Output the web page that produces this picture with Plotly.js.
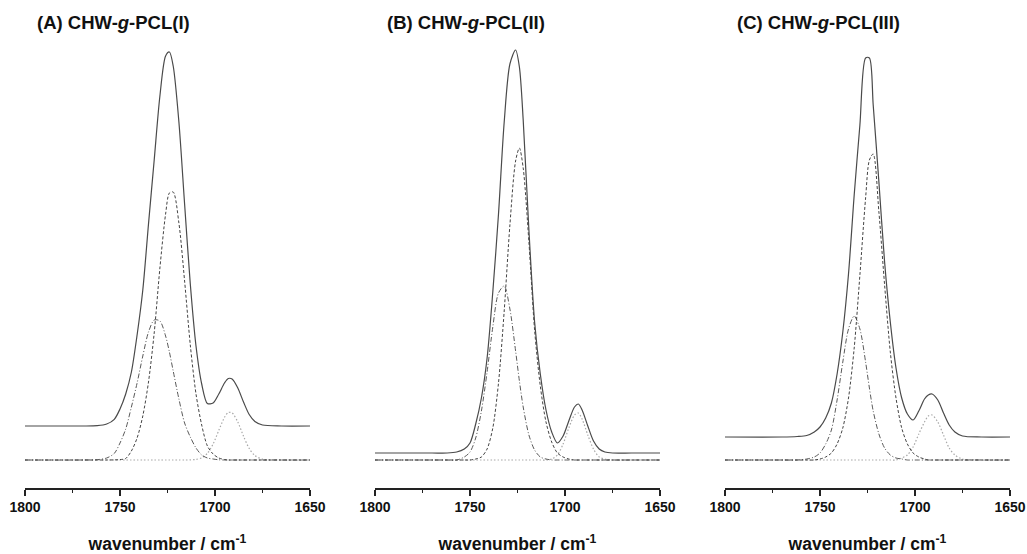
<!DOCTYPE html>
<html>
<head>
<meta charset="utf-8">
<script src="https://cdn.plot.ly/plotly-3.0.1.min.js"></script>
<style>html,body{margin:0;padding:0;background:#fff;}#chart{width:1027px;height:554px;}</style>
</head>
<body>
<div id="chart"></div>
<script>
// wavenumber grid (cm-1)
const wavenumber = [1800, 1770, 1762, 1757, 1753, 1750, 1747, 1744, 1741, 1738, 1735, 1732, 1729, 1726, 1724, 1722, 1719, 1716, 1713, 1710, 1707, 1704, 1701, 1698, 1695, 1693, 1691, 1688, 1685, 1682, 1679, 1675, 1665, 1650];

const panelTitles = ["(A) CHW-<i>g</i>-PCL(I)", "(B) CHW-<i>g</i>-PCL(II)", "(C) CHW-<i>g</i>-PCL(III)"];
const tickValues = [1800, 1750, 1700, 1650];
const minorTickValues = [1775, 1725, 1675];
const xTitle = "wavenumber / cm<sup>-1</sup>";

// Panel A (intensity, arbitrary units)
const A_sum = [34,34,34.3,36,40.7,51,66,88,125,170,236,300,364,404,408,394,338,256,176,114,76,56.5,57,66,77,81.5,81,72,58,45.5,38.5,35,34,34];
const A_band1 = [0,0,0,0,0.1,0.4,1.5,9,22,44,78,127,192,246,267,268,237,179,115,66,35,14,6,2,0.5,0,0,0,0,0,0,0,0,0];
const A_band2 = [0,0,0.3,2,6.6,17,31,53,77,104,128,140,139,124,108,89,61,37,23,12,5,2,1,0.2,0,0,0,0,0,0,0,0,0,0];
const A_band3 = [0,0,0,0,0,0,0,0,0,0,0,0,0,0,0,0,0,0,0.1,0.6,2.2,6.7,16,29.6,42.7,47.5,47.2,38,23.8,11.6,4.4,0.8,0,0];

// Panel B
const B_sum = [7,7,7,8,11,17,36,62,102,168,246,338,396,410,393,340,230,138,86,50,28,17,24,39,53,56,50,34,19,11,8,7,7,7];
const B_band1 = [0,0,0,0,0,0,1,3,11,32,77,149,235,299,312,292,218,130,74,38,18,7,3,1,0,0,0,0,0,0,0,0,0,0];
const B_band2 = [0,0,0,0,3,8,22,49,88,133,167,174,151,109,79,53,25,10,3,1,0,0,0,0,0,0,0,0,0,0,0,0,0,0];
const B_band3 = [0,0,0,0,0,0,0,0,0,0,0,0,0,0,0,0,0,0,0,0,1,5,16,32,45,47,41,25,11,3,1,0,0,0];

// Panel C
const C_sum = [23,23,23.5,24.5,28,33,42,57,86,128,186,265,335,402,402,355,278,198,138,92,62,46,40,49,61,65,66,60,47,35,28,24,23,23];
const C_band1 = [0,0,0,0,0,1,3,7,16,32,62,112,185,262,300,306,248,175,108,62,32,16,7,3,1,0,0,0,0,0,0,0,0,0];
const C_band2 = [0,0,0,1,3,7,16,30,60,98,131,144,131,98,72,49,26,12,5,2,1,0,0,0,0,0,0,0,0,0,0,0,0,0];
const C_band3 = [0,0,0,0,0,0,0,0,0,0,0,0,0,0,0,0,0,0,0,0,2,5,13,26,38,44,45,38,25,12,5,1,0,0];

const panels = [
  {sum: A_sum, b1: A_band1, b2: A_band2, b3: A_band3},
  {sum: B_sum, b1: B_band1, b2: B_band2, b3: B_band3},
  {sum: C_sum, b1: C_band1, b2: C_band2, b3: C_band3}
];

const styles = {
  b3:  {color: '#a8a8a8', width: 1.2, dash: '1.5px,2px'},
  b2:  {color: '#5a5a5a', width: 1, dash: '5px,2px,1px,2px'},
  b1:  {color: '#444444', width: 1, dash: '3px,2px'},
  sum: {color: '#4a4a4a', width: 1.2, dash: 'solid'}
};

const traces = [];
panels.forEach((p, i) => {
  const xa = i === 0 ? 'x' : 'x' + (i + 1);
  const ya = i === 0 ? 'y' : 'y' + (i + 1);
  ['b3', 'b2', 'b1', 'sum'].forEach(k => {
    traces.push({
      x: wavenumber, y: p[k], xaxis: xa, yaxis: ya,
      type: 'scatter', mode: 'lines',
      line: Object.assign({shape: 'spline', smoothing: 0.8}, styles[k]),
      hoverinfo: 'skip', showlegend: false
    });
  });
});

const domains = [[25/1027, 310/1027], [375/1027, 660/1027], [725/1027, 1010/1027]];
const titleX = [35/1027, 385/1027, 735/1027];

function xaxisDef(d) {
  return {
    domain: d, range: [1800, 1650], showgrid: false, zeroline: false,
    showline: true, linecolor: '#222', linewidth: 1.6,
    ticks: 'outside', ticklen: 6, tickwidth: 1.5, tickcolor: '#222',
    tickmode: 'array', tickvals: tickValues, ticktext: tickValues.map(String),
    tickfont: {family: 'Liberation Sans, Arial, sans-serif', size: 14, color: '#111', weight: 'bold'},
    minor: {tickmode: 'array', tickvals: minorTickValues, ticks: 'outside', ticklen: 3, tickwidth: 1.5, tickcolor: '#222', showgrid: false},
    title: {text: xTitle, font: {family: 'Liberation Sans, Arial, sans-serif', size: 17.5, color: '#111', weight: 'bold'}, standoff: 24},
    fixedrange: true
  };
}
function yaxisDef(anchor) {
  return {domain: [0, 1], range: [-28, 420], visible: false, anchor: anchor, fixedrange: true};
}

const layout = {
  width: 1027, height: 554,
  margin: {l: 0, r: 0, t: 40, b: 66},
  paper_bgcolor: '#fff', plot_bgcolor: '#fff',
  showlegend: false,
  xaxis: Object.assign(xaxisDef(domains[0]), {anchor: 'y'}),
  xaxis2: Object.assign(xaxisDef(domains[1]), {anchor: 'y2'}),
  xaxis3: Object.assign(xaxisDef(domains[2]), {anchor: 'y3'}),
  yaxis: yaxisDef('x'),
  yaxis2: yaxisDef('x2'),
  yaxis3: yaxisDef('x3'),
  annotations: panelTitles.map((t, i) => ({
    text: t, xref: 'paper', yref: 'paper', x: titleX[i], y: (488 - 22) / 448,
    xanchor: 'left', yanchor: 'middle', showarrow: false,
    font: {family: 'Liberation Sans, Arial, sans-serif', size: 18.5, color: '#111', weight: 'bold'}
  }))
};

Plotly.newPlot('chart', traces, layout, {staticPlot: true, displayModeBar: false});
</script>
</body>
</html>
